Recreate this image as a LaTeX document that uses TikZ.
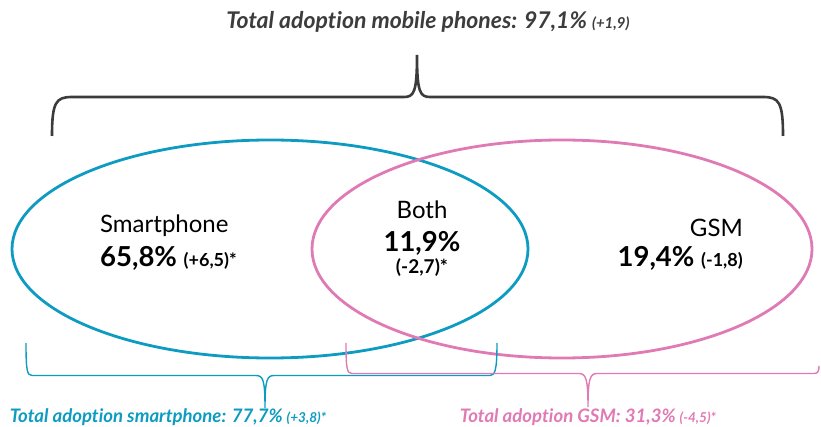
\documentclass[tikz,border=0pt]{standalone}
\usepackage{fontspec}
\setmainfont{Lato}[Ligatures={NoCommon}]
\usepackage{tikz}
\usetikzlibrary{positioning, calc}
\usepackage{xcolor}
\definecolor{smartblue}{RGB}{14,155,194}
\definecolor{gsmpink}{RGB}{224,122,180}
\definecolor{darkgray}{RGB}{60,60,60}

\tikzset{
  total text/.style={font=\fontsize{18.6}{20}\selectfont\bfseries\itshape, inner sep=0pt, anchor=base},
  set name/.style={font=\fontsize{24}{26}\selectfont, inner sep=0pt},
  set value/.style={font=\fontsize{27.5}{30}\selectfont\bfseries, inner sep=0pt},
}

\begin{document}
\begin{tikzpicture}[x=1pt, y=-1pt]
        \useasboundingbox (0,0) rectangle (821,427);

        % Title
        \node[font=\fontsize{23}{25}\selectfont\bfseries\itshape, text=darkgray, inner sep=0pt, anchor=base] (title) at (428,29)
            {Total adoption mobile phones: 97,1\% {\fontsize{15}{17}\selectfont(+1,9)}};

        % Top brace
        \draw[darkgray, line width=2.6pt] (52,136) .. controls (52,102) and (56,97) .. (72,97) -- (404,97)
            .. controls (414,97) and (417,92) .. (417,55) .. controls (417,92) and (420,97) .. (430,97)
            -- (763,97) .. controls (779,97) and (783,102) .. (783,136);

        % Ellipses
        \draw[smartblue, line width=2.8pt] (270,249) ellipse [x radius=258, y radius=109];
        \draw[gsmpink, line width=2.8pt] (562,249) ellipse [x radius=250, y radius=109];

        % Bottom braces
        \draw[smartblue, line width=1.4pt] (26,343) .. controls (26,370) and (27,375.5) .. (32,375.5) -- (256,375.5)
            .. controls (263,375.5) and (265,380) .. (265,408) .. controls (265,380) and (267,375.5) .. (274,375.5)
            -- (490,375.5) .. controls (495,375.5) and (497,370) .. (497,343);
        \draw[gsmpink, line width=1.4pt] (346,343) .. controls (346,369) and (347,373.5) .. (352,373.5) -- (579,373.5)
            .. controls (586,373.5) and (588,379) .. (588,407) .. controls (588,379) and (590,373.5) .. (597,373.5)
            -- (814,373.5) .. controls (818,373.5) and (819,371) .. (819,366);

        % Set labels
        \node[set name, anchor=base west] (smart) at (100,233) {Smartphone};
        \node[set value, anchor=base west] (smartval) at (100,267)
            {65,8\% {\fontsize{18}{20}\selectfont(+6,5)*}};

        \node[set name, anchor=base] (both) at (422,219) {Both};
        \node[set value, anchor=base] (bothval) at (422,252) {11,9\%};
        \node[inner sep=0pt, anchor=base, font=\fontsize{19}{21}\selectfont\bfseries] (bothdiff) at (422,274) {(-2,7)*};

        \node[set name, anchor=base east] (gsm) at (743,237) {GSM};
        \node[set value, anchor=base east] (gsmval) at (743,267)
            {19,4\% {\fontsize{18}{20}\selectfont(-1,8)}};

        % Totals
        \node[total text, text=smartblue] (smarttotal) at (168,422)
            {Total adoption smartphone: 77,7\% {\fontsize{13.6}{15}\selectfont(+3,8)*}};
        \node[total text, text=gsmpink] (gsmtotal) at (588,422)
            {Total adoption GSM: 31,3\% {\fontsize{13.6}{15}\selectfont(-4,5)*}};
\end{tikzpicture}
\end{document}
